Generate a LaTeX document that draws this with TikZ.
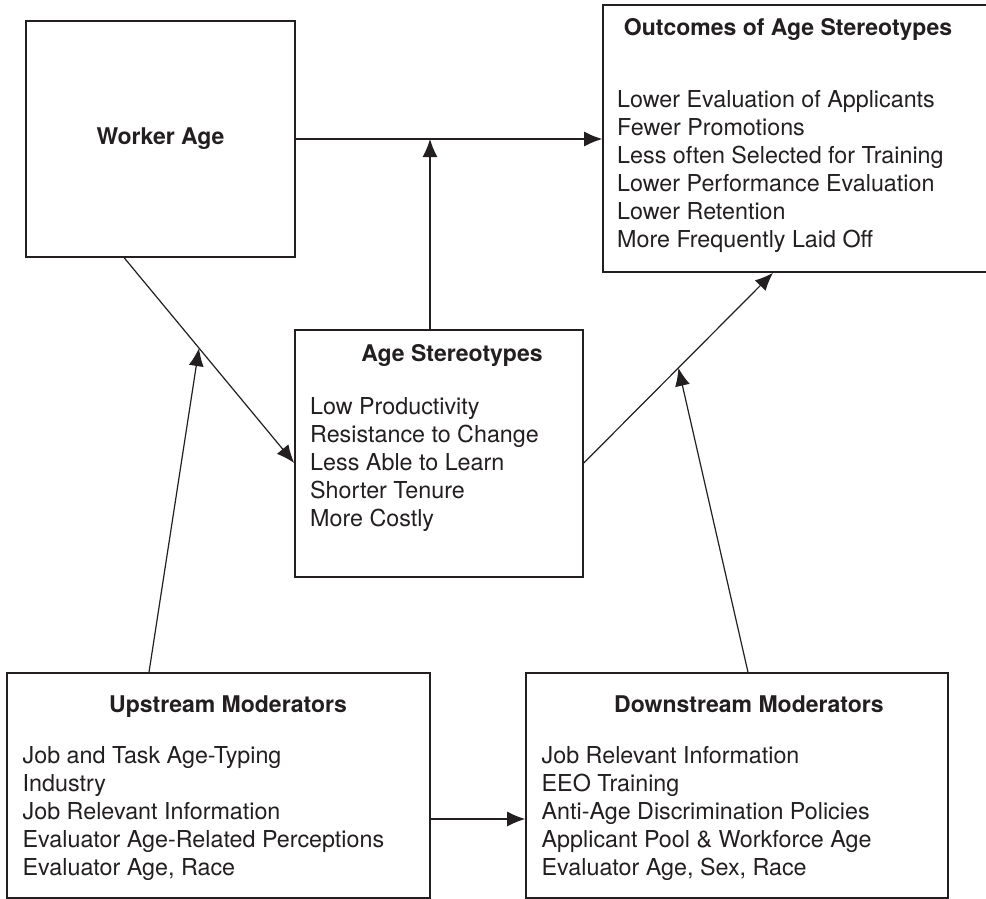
\documentclass[tikz,border=0pt]{standalone}
\usepackage{fontspec}
\setmainfont{TeX Gyre Heros}
\usepackage{xcolor}
\usetikzlibrary{arrows.meta, calc}
\definecolor{ink}{HTML}{231F20}
\tikzset{
  box/.style={draw=ink, line width=1.6pt, inner sep=0pt},
  head/.style={anchor=base, inner sep=0pt, font=\fontsize{23}{28}\selectfont\bfseries},
  items/.style={anchor=north west, align=left, inner sep=0pt},
  arrow/.style={draw=ink, line width=1.2pt, -{Latex[length=18pt,width=15pt]}}
}
\begin{document}
\begin{tikzpicture}[x=1pt, y=-1pt, every node/.append style={text=ink, font=\fontsize{23.3}{28}\selectfont}]
\fill[white] (0,0) rectangle (986,899);
\useasboundingbox (0,0) rectangle (986,899);

\node[box, minimum width=269pt, minimum height=236pt, font=\fontsize{23}{28}\selectfont\bfseries] (wa) at (160.5,139) {Worker Age};

\node[box, minimum width=387pt, minimum height=267pt] (out) at (796.5,138.5) {};
\node[head] (outhead) at (788,36) {Outcomes of Age Stereotypes};
\node[items] (outlist) at (617,90) {Lower Evaluation of Applicants\\Fewer Promotions\\Less often Selected for Training\\Lower Performance Evaluation\\Lower Retention\\More Frequently Laid Off};

\node[box, minimum width=288pt, minimum height=247pt] (as) at (439,453.5) {};
\node[head] (ashead) at (452,361) {Age Stereotypes};
\node[items] (aslist) at (310,397) {Low Productivity\\Resistance to Change\\Less Able to Learn\\Shorter Tenure\\More Costly};

\node[box, minimum width=423pt, minimum height=225pt] (up) at (218.5,785.5) {};
\node[head] (uphead) at (228,712) {Upstream Moderators};
\node[items] (uplist) at (22.5,746) {Job and Task Age-Typing\\Industry\\Job Relevant Information\\Evaluator Age-Related Perceptions\\Evaluator Age, Race};

\node[box, minimum width=422pt, minimum height=225pt] (down) at (737,785.5) {};
\node[head] (downhead) at (749,712) {Downstream Moderators};
\node[items] (downlist) at (541.5,746) {Job Relevant Information\\EEO Training\\Anti-Age Discrimination Policies\\Applicant Pool \& Workforce Age\\Evaluator Age, Sex, Race};

\coordinate (wafoot) at ([xshift=99pt]wa.south west);
\coordinate (asin) at ([yshift=-9.5pt]as.west);
\coordinate (asout) at ([yshift=-9.5pt]as.east);
\coordinate (outin) at ([xshift=-23.5pt]out.south);
\coordinate (upmeet) at ($(wafoot)!0.44!(asin)$);
\coordinate (downmeet) at ($(asout)!0.5!(outin)$);

\draw[arrow] (wa.east) -- (wa.east -| out.west);
\draw[arrow] ([xshift=-9pt]as.north) -- ([xshift=-9pt]as.north |- wa.east);
\draw[arrow] (wafoot) -- (asin);
\draw[arrow] (asout) -- (outin);
\draw[arrow] ([xshift=-69.5pt]up.north) -- (upmeet);
\draw[arrow] ([xshift=11pt]down.north) -- (downmeet);
\draw[arrow] ([yshift=-33.5pt]up.east) -- ([yshift=-33.5pt]up.east -| down.west);
\end{tikzpicture}
\end{document}
